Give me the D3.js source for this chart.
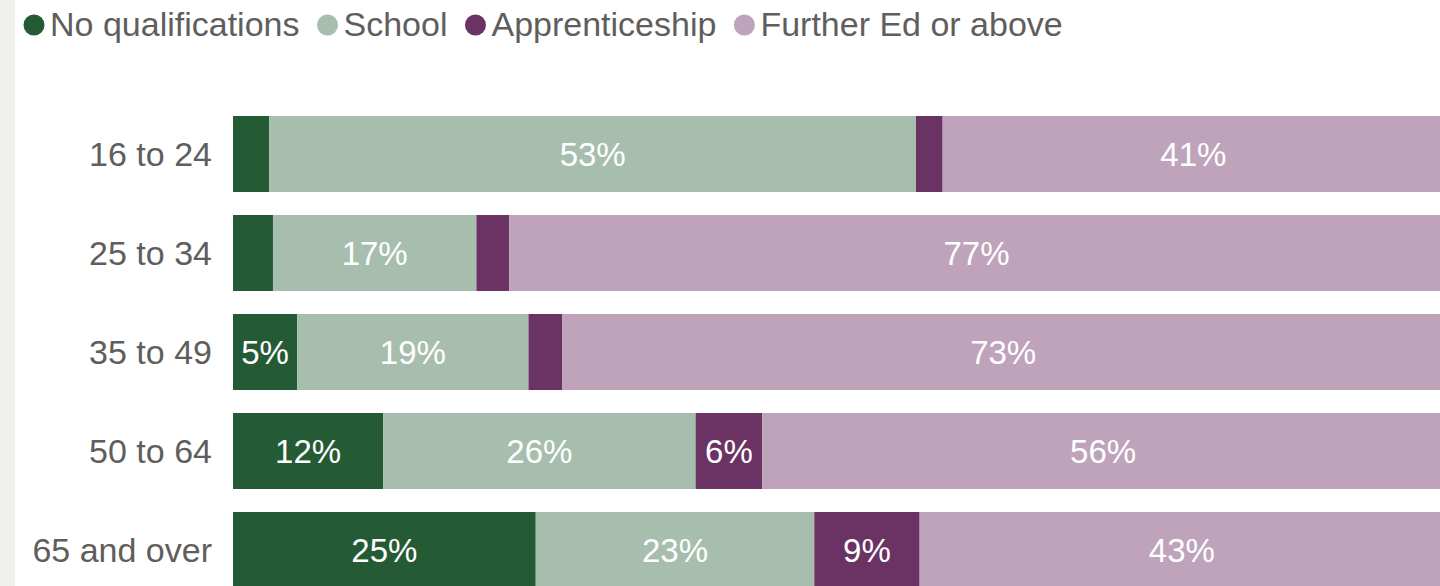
<!DOCTYPE html>
<html>
<head>
<meta charset="utf-8">
<script src="https://cdn.jsdelivr.net/npm/d3@7"></script>
<style>
  html, body { margin: 0; padding: 0; background: #ffffff; overflow: hidden; }
  svg { display: block; }
  text { font-family: "Liberation Sans", Arial, sans-serif; }
</style>
</head>
<body>
<svg id="chart" width="1440" height="586"></svg>
<script>
// ---- Data ----
const categories = ["16 to 24", "25 to 34", "35 to 49", "50 to 64", "65 and over"];
const seriesNames = ["No qualifications", "School", "Apprenticeship", "Further Ed or above"];
const noQualifications = [3.0, 3.3, 5.3, 12.4, 25.0];
const school = [53.4, 16.8, 19.1, 25.8, 23.0];
const apprenticeship = [2.2, 2.7, 2.8, 5.5, 8.7];
const furtherEd = [41.4, 77.2, 72.8, 56.3, 43.3];
const seriesColors = ["#245B34", "#A7BEAE", "#6B3264", "#BEA3BB"];

const seriesValues = [noQualifications, school, apprenticeship, furtherEd];
const table = categories.map((c, i) => {
  const row = { category: c };
  seriesNames.forEach((s, j) => row[s] = seriesValues[j][i]);
  return row;
});

const svg = d3.select("#chart");
const W = 1440, H = 586;

// left grey strip
svg.append("rect").attr("x", 0).attr("y", 0).attr("width", 15).attr("height", H).attr("fill", "#EEF0EB");

const x = d3.scaleLinear().domain([0, 100]).range([233, 1444]);
const y = d3.scaleBand().domain(categories).range([116, 588]).paddingInner(23 / 99).paddingOuter(0);
const color = d3.scaleOrdinal().domain(seriesNames).range(seriesColors);

const stack = d3.stack().keys(seriesNames);
const stacked = stack(table);

const g = svg.append("g");
const layers = g.selectAll("g.layer").data(stacked).join("g")
  .attr("class", "layer").attr("fill", d => color(d.key));

layers.selectAll("rect").data(d => d).join("rect")
  .attr("x", d => x(d[0]))
  .attr("y", d => y(d.data.category))
  .attr("width", d => x(d[1]) - x(d[0]))
  .attr("height", y.bandwidth());

// data labels
const fmt = d3.format(".0f");
const labelG = svg.append("g");
stacked.forEach(layer => {
  layer.forEach(d => {
    const t = labelG.append("text")
      .attr("x", (x(d[0]) + x(d[1])) / 2)
      .attr("y", y(d.data.category) + y.bandwidth() / 2)
      .attr("text-anchor", "middle")
      .attr("dominant-baseline", "central")
      .attr("fill", "#ffffff")
      .attr("font-size", 33)
      .text(fmt(d[1] - d[0]) + "%");
    const w = t.node().getComputedTextLength();
    if (w + 8 > x(d[1]) - x(d[0])) t.remove();
  });
});

// category axis
const yAxis = d3.axisLeft(y).tickSize(0).tickPadding(0);
const axG = svg.append("g").attr("transform", "translate(212,0)").call(yAxis);
axG.select(".domain").remove();
axG.selectAll("text")
  .attr("font-family", "Liberation Sans, Arial, sans-serif")
  .attr("font-size", 34)
  .attr("fill", "#605E5C")
  .attr("dy", "0.36em");

// legend
const legend = svg.append("g");
let lx = 23;
seriesNames.forEach(s => {
  const item = legend.append("g");
  item.append("circle").attr("cx", lx + 11).attr("cy", 25).attr("r", 10.5).attr("fill", color(s));
  const t = item.append("text").attr("x", lx + 27).attr("y", 35.5)
    .attr("font-size", 34).attr("fill", "#605E5C").text(s);
  lx = lx + 27 + t.node().getComputedTextLength() + 17;
});
</script>
</body>
</html>
